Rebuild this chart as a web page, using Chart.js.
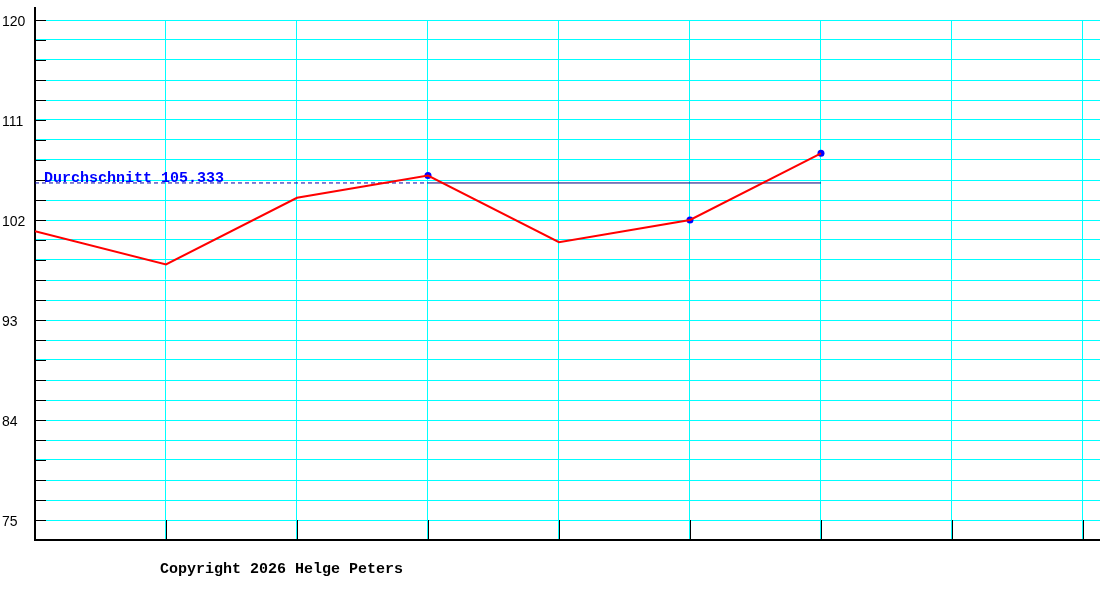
<!DOCTYPE html>
<html>
<head>
<meta charset="utf-8">
<title>Durchschnitt</title>
<script src="https://cdn.jsdelivr.net/npm/chart.js@4"></script>
<style>
    body { margin: 0; background: #fff; }
    #box { width: 1100px; height: 600px; }
    canvas { display: block; }
</style>
</head>
<body>
<div id="box"><canvas id="chart"></canvas></div>
<script>
// values, one per slot from the left
let values = [101, 98, 104, 106, 100, 102, 108];
// slots with a blue marker (these make up the average)
let marked = [false, false, false, true, false, true, true];
// vertical grid positions
let xTicks = [0, 1, 2, 3, 4, 5, 6, 7, 8];
// labelled y ticks, with minor grid lines in between
let yLabels = [75, 84, 93, 102, 111, 120];
let yMinorSteps = 5;
let averageText = 'Durchschnitt';
let copyright = 'Copyright 2026 Helge Peters';

let markedValues = values.map((v, i) => marked[i] ? v : null);
let markedOnly = values.filter((v, i) => marked[i]);
let average = markedOnly.reduce((a, b) => a + b, 0) / markedOnly.length;
let firstMarked = marked.indexOf(true);
let lastMarked = marked.lastIndexOf(true);

let yStep = (yLabels[1] - yLabels[0]) / yMinorSteps;
let yMin = yLabels[0];
let yMax = yLabels[yLabels.length - 1];

function isLabel(v) {
    return yLabels.some(l => Math.abs(l - v) < 0.001);
}

// short black ticks inside the plot, the axis stub on top and the texts
let overlay = {
    id: 'overlay',
    beforeDatasetsDraw(chart) {
        let ctx = chart.ctx;
        let area = chart.chartArea;
        let x = chart.scales.x;
        let y = chart.scales.y;
        ctx.save();
        ctx.strokeStyle = '#000';
        ctx.lineWidth = 1;
        ctx.beginPath();
        for (let t of y.ticks) {
            let py = Math.round(y.getPixelForValue(t.value)) + 0.5;
            ctx.moveTo(area.left, py);
            ctx.lineTo(area.left + 11, py);
        }
        let bottomGrid = y.getPixelForValue(yMin);
        for (let t of xTicks) {
            if (t === 0) continue;
            let px = Math.round(x.getPixelForValue(t)) + 0.5;
            ctx.moveTo(px, bottomGrid);
            ctx.lineTo(px, area.bottom);
        }
        ctx.stroke();
        ctx.lineWidth = 2;
        ctx.beginPath();
        ctx.moveTo(area.left, area.top - 13);
        ctx.lineTo(area.left, area.top);
        ctx.stroke();
        ctx.restore();
    },
    afterDatasetsDraw(chart) {
        let ctx = chart.ctx;
        let area = chart.chartArea;
        let x = chart.scales.x;
        let y = chart.scales.y;
        ctx.save();
        ctx.textBaseline = 'alphabetic';
        ctx.textAlign = 'left';
        ctx.fillStyle = '#0000ff';
        ctx.font = 'bold 15px "Liberation Mono"';
        ctx.fillText(averageText + ' ' + average.toFixed(3), x.getPixelForValue(0) + 9, y.getPixelForValue(average) - 1);
        ctx.fillStyle = '#000';
        ctx.fillText(copyright, area.left + 125, area.bottom + 33);
        ctx.restore();
    }
};

new Chart(document.getElementById('chart'), {
    type: 'line',
    data: {
        datasets: [
            {
                label: 'Wert',
                data: values.map((v, i) => ({x: i, y: v})),
                borderColor: '#ff0000',
                borderWidth: 2,
                pointRadius: 0,
                tension: 0,
                order: 1
            },
            {
                label: 'Markiert',
                data: markedValues.map((v, i) => ({x: i, y: v})),
                showLine: false,
                pointRadius: 3.5,
                pointBorderWidth: 0,
                pointBackgroundColor: '#0000ff',
                order: 2
            },
            {
                label: 'Durchschnitt bis',
                data: [{x: 0, y: average}, {x: firstMarked, y: average}],
                borderColor: '#0000aa',
                borderWidth: 1,
                borderDash: [4, 3],
                pointRadius: 0,
                order: 3
            },
            {
                label: 'Durchschnitt',
                data: [{x: firstMarked, y: average}, {x: lastMarked, y: average}],
                borderColor: '#00007a',
                borderWidth: 1,
                pointRadius: 0,
                order: 3
            }
        ]
    },
    options: {
        responsive: true,
        maintainAspectRatio: false,
        animation: false,
        layout: {
            autoPadding: false,
            padding: {left: 2, top: 20, right: 0, bottom: 60}
        },
        plugins: {
            legend: {display: false},
            tooltip: {enabled: false}
        },
        scales: {
            x: {
                type: 'linear',
                min: 0,
                max: 8.13,
                afterBuildTicks: scale => {
                    scale.ticks = xTicks.map(v => ({value: v}));
                },
                afterFit: scale => {
                    scale.height = 0;
                },
                ticks: {display: false},
                grid: {
                    color: '#00ffff',
                    lineWidth: 1,
                    drawTicks: false
                },
                border: {color: '#000', width: 2}
            },
            y: {
                type: 'linear',
                min: yMin - yStep,
                max: yMax,
                afterBuildTicks: scale => {
                    let ticks = [];
                    let n = Math.round((yMax - yMin) / yStep);
                    for (let i = 0; i <= n; i++)
                        ticks.push({value: Math.round((yMin + i * yStep) * 100) / 100});
                    scale.ticks = ticks;
                },
                afterFit: scale => {
                    scale.width = 33;
                },
                ticks: {
                    autoSkip: false,
                    crossAlign: 'far',
                    padding: 0,
                    labelOffset: 2,
                    color: '#000',
                    font: {family: 'Liberation Sans', size: 14},
                    callback: v => isLabel(v) ? String(Math.round(v)) : ''
                },
                grid: {
                    color: '#00ffff',
                    lineWidth: 1,
                    drawTicks: false
                },
                border: {color: '#000', width: 2}
            }
        }
    },
    plugins: [overlay]
});
</script>
</body>
</html>
